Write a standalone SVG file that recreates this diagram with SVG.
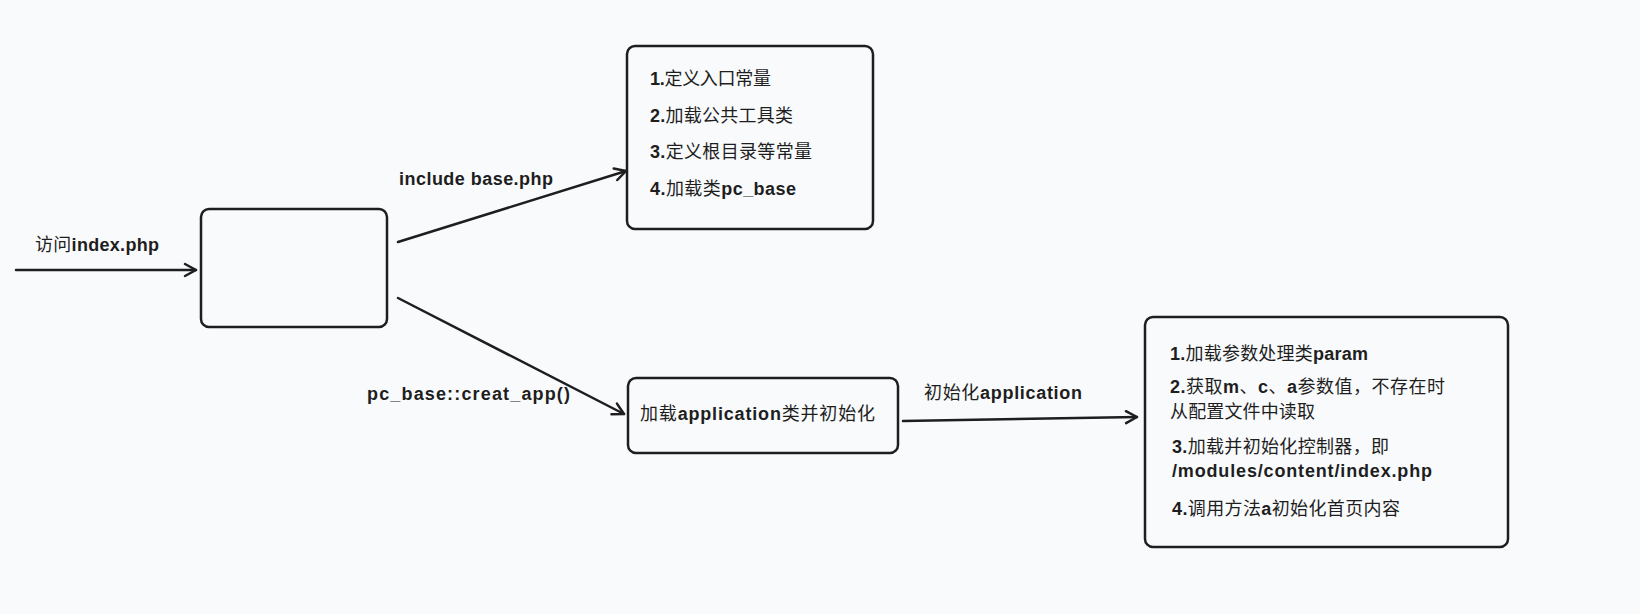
<svg xmlns="http://www.w3.org/2000/svg" width="1640" height="614" viewBox="0 0 1640 614">
<defs>
<style>
.bg{fill:#f9fafc}
.box{fill:#f9fafc;stroke:#1e1e1e;stroke-width:2.5}
.conn{fill:none;stroke:#1e1e1e;stroke-width:2.5;stroke-linecap:round}
text{font-family:"Liberation Sans","Noto Sans CJK SC",sans-serif;font-size:18px;fill:#1e1e1e}
.l{font-weight:bold}
</style>
<marker id="arr" markerUnits="userSpaceOnUse" markerWidth="16" markerHeight="16" refX="13" refY="8" orient="auto">
<path d="M2,2 L13,8 L2,14" fill="none" stroke="#1e1e1e" stroke-width="2.5" stroke-linecap="round" stroke-linejoin="round"/>
</marker>
</defs>
<rect class="bg" x="0" y="0" width="1640" height="614"/>
<g id="connectors">
<line class="conn" x1="16" y1="270" x2="196" y2="270" marker-end="url(#arr)"/>
<line class="conn" x1="398" y1="242" x2="626" y2="171" marker-end="url(#arr)"/>
<line class="conn" x1="398" y1="298" x2="624" y2="414" marker-end="url(#arr)"/>
<line class="conn" x1="903" y1="421" x2="1137" y2="417" marker-end="url(#arr)"/>
<text x="35" y="251" textLength="124">访问<tspan class="l">index.php</tspan></text>
<text x="399" y="185" textLength="154" class="l">include base.php</text>
<text x="367" y="400" textLength="203" class="l">pc_base::creat_app()</text>
<text x="924" y="399" textLength="158">初始化<tspan class="l">application</tspan></text>
</g>
<g id="node-entry">
<rect class="box" x="201" y="209" width="186" height="118" rx="8"/>
</g>
<g id="node-base">
<rect class="box" x="627" y="46" width="246" height="183" rx="8"/>
<text x="650" y="85" textLength="121"><tspan class="l">1.</tspan>定义入口常量</text>
<text x="650" y="122" textLength="143"><tspan class="l">2.</tspan>加载公共工具类</text>
<text x="650" y="158" textLength="162"><tspan class="l">3.</tspan>定义根目录等常量</text>
<text x="650" y="195" textLength="146"><tspan class="l">4.</tspan>加载类<tspan class="l">pc_base</tspan></text>
</g>
<g id="node-app">
<rect class="box" x="628" y="378" width="270" height="75" rx="8"/>
<text x="640" y="420" textLength="235">加载<tspan class="l">application</tspan>类并初始化</text>
</g>
<g id="node-init">
<rect class="box" x="1145" y="317" width="363" height="230" rx="8"/>
<text x="1170" y="360" textLength="198"><tspan class="l">1.</tspan>加载参数处理类<tspan class="l">param</tspan></text>
<text x="1170" y="393" textLength="275"><tspan class="l">2.</tspan>获取<tspan class="l">m</tspan>、<tspan class="l">c</tspan>、<tspan class="l">a</tspan>参数值，不存在时</text>
<text x="1170" y="418" textLength="145">从配置文件中读取</text>
<text x="1172" y="453" textLength="217"><tspan class="l">3.</tspan>加载并初始化控制器，即</text>
<text x="1172" y="477" textLength="260" class="l">/modules/content/index.php</text>
<text x="1172" y="515" textLength="228"><tspan class="l">4.</tspan>调用方法<tspan class="l">a</tspan>初始化首页内容</text>
</g>
</svg>
